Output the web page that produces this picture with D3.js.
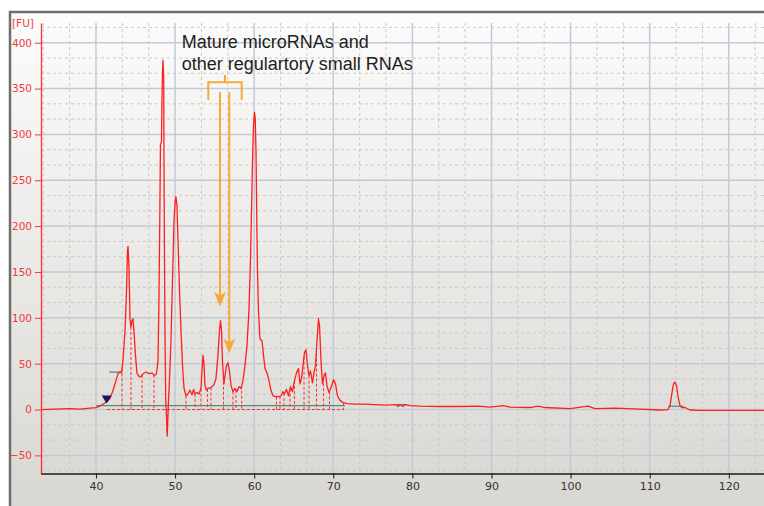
<!DOCTYPE html>
<html>
<head>
<meta charset="utf-8">
<script src="https://cdn.jsdelivr.net/npm/d3@7"></script>
<style>
  body { margin: 0; background: #fff; }
  svg { display: block; }
</style>
</head>
<body>
<div id="chart"></div>
<script>
// electropherogram trace: fragment position [s] and fluorescence [FU]
let sizes = [
  33.05, 34.82, 36.71, 37.98, 39.24, 40.00, 40.51, 41.01, 41.39, 41.77,
  42.15, 42.53, 42.78, 43.03, 43.22, 43.41, 43.67, 43.86, 43.98, 44.05,
  44.17, 44.30, 44.42, 44.55, 44.68, 44.80, 44.99, 45.18, 45.44, 45.69,
  45.94, 46.32, 46.70, 47.08, 47.40, 47.65, 47.84, 47.96, 48.09, 48.15,
  48.28, 48.34, 48.41, 48.47, 48.56, 48.62, 48.72, 48.82, 48.91, 49.00,
  49.08, 49.17, 49.29, 49.48, 49.67, 49.86, 50.01, 50.11, 50.24, 50.37,
  50.56, 50.75, 50.94, 51.13, 51.38, 51.63, 51.88, 52.14, 52.33, 52.52,
  52.77, 53.02, 53.27, 53.40, 53.53, 53.65, 53.78, 53.97, 54.16, 54.54,
  54.92, 55.17, 55.42, 55.61, 55.74, 55.87, 55.99, 56.18, 56.31, 56.50,
  56.69, 56.88, 57.07, 57.32, 57.57, 57.83, 58.08, 58.33, 58.58, 58.84,
  59.09, 59.34, 59.53, 59.66, 59.79, 59.91, 60.04, 60.13, 60.23, 60.33,
  60.42, 60.54, 60.73, 60.99, 61.18, 61.37, 61.62, 61.87, 62.12, 62.38,
  62.76, 63.14, 63.39, 63.64, 63.83, 64.08, 64.34, 64.59, 64.84, 65.10,
  65.35, 65.60, 65.79, 65.98, 66.17, 66.36, 66.55, 66.74, 66.93, 67.12,
  67.37, 67.56, 67.75, 67.94, 68.13, 68.26, 68.45, 68.63, 68.82, 69.01,
  69.20, 69.46, 69.77, 70.03, 70.28, 70.53, 70.85, 71.23, 71.73, 72.75,
  74.01, 75.27, 76.54, 77.93, 78.18, 78.43, 78.81, 79.06, 79.70, 80.96,
  83.49, 86.02, 88.29, 89.81, 91.46, 92.34, 94.87, 95.88, 96.76, 99.93,
  102.20, 103.09, 105.61, 108.78, 111.30, 112.31, 112.57, 112.82, 113.01, 113.20,
  113.39, 113.58, 113.83, 114.08, 114.47, 115.10, 116.36, 118.89, 124.45
];
let fu = [
  0, 0.5, 1, 0.5, 1.6, 2, 3.8, 6.5, 8.7, 12,
  20.7, 31.5, 39, 41, 40, 53, 86, 129, 173, 178,
  156, 99, 90, 97, 99, 86, 59, 40, 36, 36,
  39, 41, 39, 40, 37, 39, 53, 118, 227, 289,
  292, 336, 368, 381, 363, 227, 86, 10, -6.5, -29,
  -12, 10, 31.5, 75, 140, 205, 227, 232, 222, 184,
  129, 86, 48, 23, 15, 17, 21, 16, 22, 17,
  18.5, 17, 23, 42, 59, 51, 26, 21, 23, 24,
  27, 34, 59, 86, 97, 86, 53, 28, 37, 48,
  51, 42, 26, 19.6, 23, 19.6, 25, 23, 31.5, 48,
  70, 108, 162, 216, 271, 309, 324, 318, 282, 205,
  151, 108, 77, 75, 59, 44.6, 40, 31.5, 21, 15,
  14, 14, 15, 19.6, 17, 22, 15, 25, 19.6, 31.5,
  40, 44.6, 28, 34, 48, 62, 65, 48, 37, 42,
  29, 40, 48, 75, 99, 91, 53, 28, 37, 40,
  26, 18.5, 25, 32.6, 28, 15, 10, 7.6, 6.5, 6,
  6, 5.4, 4.9, 5.4, 3.3, 4.9, 3.3, 5.4, 4.3, 3.8,
  3.3, 3.3, 3.8, 2.7, 4.3, 2.7, 2.2, 3.8, 2.2, 1,
  3.8, 1, 1.6, 0.5, -0.5, 0, 4.3, 18.5, 28, 30,
  26, 14, 4.3, 2.2, 2.2, -0.5, -1, -1, -1
];

// peak borders (dashed drop lines)
let dropX = [43.29, 44.42, 45.82, 47.33, 48.98, 51.38, 52.52, 53.27, 54.10, 54.54,
  56.12, 57.32, 57.70, 58.42, 62.82, 63.26, 63.77, 64.53, 65.09, 66.30,
  66.93, 67.88, 68.76, 69.52, 71.29];

// integration baselines [from, to, level]
let baseFrom = [40.00, 41.67, 77.93, 112.35];
let baseTo = [71.48, 43.25, 79.19, 114.25];
let baseLevel = [4.3, 40.8, 5.4, 3.6];

let xTicks = [40, 50, 60, 70, 80, 90, 100, 110, 120];
let yTicks = [-50, 0, 50, 100, 150, 200, 250, 300, 350, 400];

// annotation
let noteLines = ["Mature microRNAs and", "other regulartory small RNAs"];
let arrowX = [55.68, 56.85];
let arrowTip = [112, 61];

let w = 764, h = 506;
let svg = d3.select("#chart").append("svg").attr("width", w).attr("height", h);

let x = d3.scaleLinear().domain([33.05, 124.45]).range([41, 764]);
let y = d3.scaleLinear().domain([-70.3, 421.5]).range([474, 23]);

/* background panel */
let defs = svg.append("defs");
let grad = defs.append("linearGradient").attr("id", "bg").attr("x1", 0).attr("x2", 0).attr("y1", 0).attr("y2", 1);
grad.append("stop").attr("offset", "0%").attr("stop-color", "#fcfcfc");
grad.append("stop").attr("offset", "100%").attr("stop-color", "#d9d7d2");
svg.append("rect").attr("x", 10).attr("y", 12).attr("width", w - 10).attr("height", h - 12).style("fill", "url(#bg)");
svg.append("path").attr("d", "M10," + h + "V12H" + w)
  .style("fill", "none").style("stroke", "#6e6e6e").style("stroke-width", 2.5);

/* grid */
let grid = svg.append("g");
let xMinor = d3.range(10, 38).filter(k => k % 3 != 0).map(k => k * 10 / 3);
let yMinor = d3.range(-4, 26).filter(k => k % 3 != 0).map(k => k * 50 / 3);
grid.selectAll(".xm").data(xMinor).enter().append("line")
  .attr("x1", d => x(d)).attr("x2", d => x(d)).attr("y1", 23).attr("y2", 474)
  .style("stroke", "#c9c9c9").style("stroke-dasharray", "3,3");
grid.selectAll(".ym").data(yMinor).enter().append("line")
  .attr("x1", 41).attr("x2", w).attr("y1", d => y(d)).attr("y2", d => y(d))
  .style("stroke", "#c9c9c9").style("stroke-dasharray", "3,3");
grid.selectAll(".xM").data(xTicks).enter().append("line")
  .attr("x1", d => x(d)).attr("x2", d => x(d)).attr("y1", 23).attr("y2", 474)
  .style("stroke", "#c3c9d6").style("stroke-width", 1.5);
grid.selectAll(".yM").data(yTicks).enter().append("line")
  .attr("x1", 41).attr("x2", w).attr("y1", d => y(d)).attr("y2", d => y(d))
  .style("stroke", "#c3c9d6").style("stroke-width", 1.5);

/* helper: trace value at a position */
let bis = d3.bisector(d => d).left;
function valueAt(s) {
  let i = Math.max(1, Math.min(sizes.length - 1, bis(sizes, s)));
  let t = (s - sizes[i - 1]) / (sizes[i] - sizes[i - 1]);
  return fu[i - 1] + t * (fu[i] - fu[i - 1]);
}

/* integration baselines */
svg.selectAll(".base").data(baseFrom).enter().append("line")
  .attr("x1", d => x(d)).attr("x2", (d, i) => x(baseTo[i]))
  .attr("y1", (d, i) => y(baseLevel[i])).attr("y2", (d, i) => y(baseLevel[i]))
  .style("stroke", "#4f8f72").style("stroke-width", 1.3);

/* dashed zero line and peak borders */
svg.append("line").attr("x1", x(41.39)).attr("x2", x(71.29)).attr("y1", y(0)).attr("y2", y(0))
  .style("stroke", "#ff3030").style("stroke-dasharray", "3,2");
svg.selectAll(".drop").data(dropX).enter().append("line")
  .attr("x1", d => x(d)).attr("x2", d => x(d))
  .attr("y1", d => y(valueAt(d))).attr("y2", y(0))
  .style("stroke", "#ff3030").style("stroke-dasharray", "3,2");

/* trace */
let pts = sizes.map((s, i) => [s, fu[i]]);
svg.append("path").datum(pts)
  .attr("d", d3.line().x(d => x(d[0])).y(d => y(d[1])))
  .style("fill", "none").style("stroke", "#ff1e1e").style("stroke-width", 1.3)
  .style("stroke-linejoin", "round");

/* axes */
let yAxis = svg.append("g").attr("transform", "translate(41,0)")
  .call(d3.axisLeft(y).tickValues(yTicks).tickSize(6).tickSizeOuter(0).tickPadding(3));
yAxis.select(".domain").style("stroke", "#ff3030").style("stroke-width", 1.3);
yAxis.selectAll(".tick line").style("stroke", "#ff3030");
yAxis.selectAll("text").style("fill", "#f03c3c").style("font", "10.5px 'DejaVu Sans'");

let xAxis = svg.append("g").attr("transform", "translate(0,473.5)")
  .call(d3.axisBottom(x).tickValues(xTicks).tickSize(5).tickSizeOuter(0).tickPadding(4));
xAxis.select(".domain").style("stroke", "#1a1a1a").style("stroke-width", 1.5);
xAxis.selectAll(".tick line").style("stroke", "#1a1a1a");
xAxis.selectAll("text").style("fill", "#333").style("font", "11px 'DejaVu Sans'");

svg.append("text").attr("x", 12).attr("y", 27).text("[FU]")
  .style("fill", "#f03c3c").style("font", "10.5px 'DejaVu Sans'");

/* start marker */
let mx = x(41.35), my = y(6.5);
svg.append("path").attr("d", "M" + (mx - 5) + "," + (my - 8) + "H" + (mx + 5) + "L" + mx + "," + my + "Z")
  .style("fill", "#16166e");

/* annotation */
let orange = "#f7a83a";
svg.selectAll(".note").data(noteLines).enter().append("text")
  .attr("x", x(50.83)).attr("y", (d, i) => y(393.9 - i * 23.7)).text(d => d)
  .style("fill", "#1e1e1e").style("font", "18px 'Liberation Sans', Arial, sans-serif");

let b0 = x(54.20), b1 = x(58.42), bc = x(56.31);
svg.append("path")
  .attr("d", "M" + b0 + "," + y(337.5) + "V" + y(356.8) + "H" + b1 + "V" + y(337.5)
    + "M" + bc + "," + y(356.8) + "V" + y(364.8))
  .style("fill", "none").style("stroke", orange).style("stroke-width", 2);

svg.selectAll(".arr").data(arrowX).enter().append("line")
  .attr("x1", d => x(d)).attr("x2", d => x(d))
  .attr("y1", y(346.2)).attr("y2", (d, i) => y(arrowTip[i]) - 10)
  .style("stroke", orange).style("stroke-width", 2);
svg.selectAll(".head").data(arrowX).enter().append("path")
  .attr("d", (d, i) => {
    let ax = x(d), ay = y(arrowTip[i]);
    return "M" + ax + "," + ay + "L" + (ax - 6) + "," + (ay - 15) + "L" + ax + "," + (ay - 11)
      + "L" + (ax + 6) + "," + (ay - 15) + "Z";
  })
  .style("fill", orange);
</script>
</body>
</html>
